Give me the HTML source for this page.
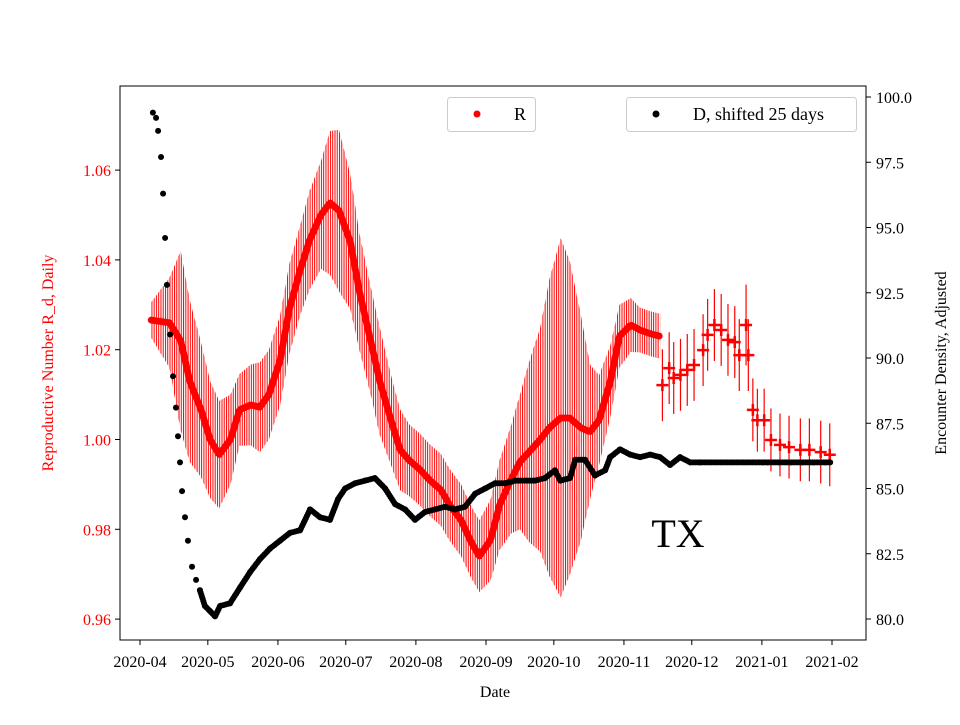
<!DOCTYPE html>
<html><head><meta charset="utf-8"><style>
body{margin:0;background:#fff}
svg text{font-family:"Liberation Serif",serif}
</style></head><body>
<svg id="c" width="960" height="720" xmlns="http://www.w3.org/2000/svg">
<defs><pattern id="hatch" patternUnits="userSpaceOnUse" width="2.26" height="10"><rect x="0" y="0" width="1" height="10" fill="#ff0000"/></pattern></defs>
<g id="plot"></g>
<rect x="120" y="86" width="746" height="554" fill="none" stroke="#000" stroke-width="1"/>
<g id="axes"></g>
<text x="678" y="547" font-size="40" text-anchor="middle">TX</text>
<g>
<rect x="447.5" y="97.5" width="88" height="34" rx="3" fill="#fff" fill-opacity="0.8" stroke="#ccc"/>
<circle cx="477" cy="114" r="3.5" fill="#ff0000"/>
<text x="514" y="120" font-size="18">R</text></g>
<g>
<rect x="626.5" y="97.5" width="230" height="34" rx="3" fill="#fff" fill-opacity="0.8" stroke="#ccc"/>
<circle cx="656" cy="114" r="3.5" fill="#000"/>
<text x="693" y="120" font-size="18">D, shifted 25 days</text></g>
<text x="495" y="697" font-size="16" text-anchor="middle">Date</text>
<text transform="translate(53,363) rotate(-90)" font-size="16" fill="#ff0000" text-anchor="middle">Reproductive Number R_d, Daily</text>
<text transform="translate(946,363) rotate(-90)" font-size="16" text-anchor="middle">Encounter Density, Adjusted</text>
</svg>
<script>
const xTickLabels=["2020-04","2020-05","2020-06","2020-07","2020-08","2020-09","2020-10","2020-11","2020-12","2021-01","2021-02"];
const xTickDays=[0,30,61,91,122,153,183,214,244,275,306];
const leftTicks=[0.96,0.98,1.00,1.02,1.04,1.06];
const rightTicks=[80.0,82.5,85.0,87.5,90.0,92.5,95.0,97.5,100.0];
const rDays=[5,13,18,22,27,31,35,40,44,49,53,57,62,66,71,75,80,84,88,93,97,102,106,111,115,119,124,128,133,137,142,146,150,155,159,164,168,172,177,181,186,190,195,199,203,208,212,217,221,226,230];
const rVals=[1.0266,1.026,1.022,1.013,1.0066,1.0,0.9966,1.0,1.0066,1.0077,1.0072,1.010,1.0177,1.029,1.038,1.0444,1.05,1.0527,1.051,1.044,1.033,1.022,1.013,1.0043,0.9977,0.9954,0.9932,0.991,0.9888,0.9854,0.982,0.9776,0.974,0.9776,0.9854,0.991,0.995,0.9972,1.0,1.0026,1.0048,1.0048,1.0026,1.0017,1.0043,1.013,1.023,1.0255,1.0244,1.0235,1.023];
const rErr=[0.004,0.01,0.02,0.018,0.015,0.013,0.012,0.01,0.008,0.009,0.01,0.01,0.01,0.01,0.01,0.011,0.012,0.016,0.018,0.015,0.013,0.012,0.012,0.01,0.009,0.008,0.008,0.008,0.008,0.008,0.008,0.008,0.008,0.009,0.01,0.012,0.015,0.02,0.025,0.033,0.04,0.035,0.025,0.015,0.01,0.008,0.007,0.006,0.005,0.005,0.005];
const pDays=[231,234,236,239,242,245,249,251,254,257,260,263,265,268,269,271,273,276,279,283,287,292,296,301,305];
const pVals=[1.0121,1.0159,1.0137,1.0144,1.0155,1.0166,1.0199,1.0233,1.0255,1.0244,1.0222,1.0217,1.0188,1.0255,1.0188,1.0066,1.0043,1.0043,0.9999,0.9988,0.9983,0.9977,0.9977,0.9972,0.9966];
const pErr=[0.008,0.008,0.008,0.008,0.008,0.008,0.008,0.008,0.008,0.008,0.008,0.008,0.008,0.009,0.008,0.007,0.007,0.007,0.007,0.007,0.007,0.007,0.007,0.007,0.007];
const dDays=[5.7,7.1,8,9.3,10.2,11.1,11.9,13.3,14.6,15.9,16.8,17.7,18.6,19.9,21.2,23,24.8,26.5,28.7,31,33.2,35.4,39.8,44.2,48.7,53.1,57.5,61.9,66.3,70.8,75.2,79.6,84,87.6,90.7,95.1,99.5,103.9,108.4,112.8,117.2,121.6,126,130.5,134.9,139.3,143.7,148.2,152.6,157,161.4,165.9,170.3,174.7,179.1,183.5,185.8,190.2,192.4,196.8,201.2,205.7,207.9,212.3,216.7,221.1,225.6,230,234.4,238.8,243.3,247.7,305.2];
const dVals=[99.4,99.2,98.7,97.7,96.3,94.6,92.8,90.9,89.3,88.1,87.0,86.0,84.9,83.9,83.0,82.0,81.5,81.1,80.5,80.3,80.1,80.5,80.6,81.2,81.8,82.3,82.7,83.0,83.3,83.4,84.2,83.9,83.8,84.6,85.0,85.2,85.3,85.4,85.0,84.4,84.2,83.8,84.1,84.2,84.3,84.2,84.3,84.8,85.0,85.2,85.2,85.3,85.3,85.3,85.4,85.7,85.3,85.4,86.1,86.1,85.5,85.7,86.2,86.5,86.3,86.2,86.3,86.2,85.9,86.2,86.0,86.0,86.0];

const NS="http://www.w3.org/2000/svg";
const X=d=>140+d*(692/306);
const YL=v=>439.5-(v-1)*4490;
const YR=v=>619-(v-80)*26.1;
const plot=document.getElementById('plot'), axes=document.getElementById('axes');
function mk(tag,attrs,parent){const e=document.createElementNS(NS,tag);for(const k in attrs)e.setAttribute(k,attrs[k]);parent.appendChild(e);return e;}

let up=rDays.map((d,i)=>X(d)+','+YL(rVals[i]+rErr[i])).join(' ');
let lo=rDays.map((d,i)=>X(d)+','+YL(rVals[i]-rErr[i])).reverse().join(' ');
const band=mk('polygon',{points:up+' '+lo,fill:'url(#hatch)'},plot);


pDays.forEach((d,i)=>{
 const l=mk('line',{x1:X(d),x2:X(d),y1:YL(pVals[i]+pErr[i]),y2:YL(pVals[i]-pErr[i]),stroke:'#ff0000','stroke-width':1.2},plot);
 
 
});
const rp=mk('polyline',{points:rDays.map((d,i)=>X(d)+','+YL(rVals[i])).join(' '),fill:'none',stroke:'#ff0000','stroke-width':7,'stroke-linecap':'round','stroke-dasharray':'0 2.3'},plot);


pDays.forEach((d,i)=>{
 const x=X(d),y=YL(pVals[i]);
 const p=mk('path',{d:`M${x-6},${y}H${x+6}M${x},${y-6}V${y+6}`,stroke:'#ff0000','stroke-width':2.5},plot);
 
 
});
const dp=mk('polyline',{points:dDays.slice(17).map((d,i)=>X(d)+','+YR(dVals[i+17])).join(' '),fill:'none',stroke:'#000','stroke-width':6,'stroke-linecap':'round','stroke-dasharray':'0 2.3'},plot);


dDays.forEach((d,i)=>{
 const c=mk('circle',{cx:X(d),cy:YR(dVals[i]),r:3,fill:'#000'},plot);
 
 
});
xTickDays.forEach((d,i)=>{
 const x=X(d);
 const t=mk('line',{x1:x,x2:x,y1:640,y2:645,stroke:'#000'},axes);
 
 
 const tx=mk('text',{x:x,y:667,'font-size':16,'text-anchor':'middle'},axes);
 tx.textContent=xTickLabels[i];
 
 
});
leftTicks.forEach(v=>{
 const y=YL(v);
 const t=mk('line',{x1:115,x2:120,y1:y,y2:y,stroke:'#000'},axes);
 
 
 const tx=mk('text',{x:111,y:y+6,'font-size':16,'text-anchor':'end',fill:'#ff0000'},axes);
 tx.textContent=v.toFixed(2);
 
 
});
rightTicks.forEach(v=>{
 const y=YR(v);
 const t=mk('line',{x1:866,x2:871,y1:y,y2:y,stroke:'#000'},axes);
 
 
 const tx=mk('text',{x:876,y:y+6,'font-size':16},axes);
 tx.textContent=v.toFixed(1);
 
 
});
</script>
</body></html>
